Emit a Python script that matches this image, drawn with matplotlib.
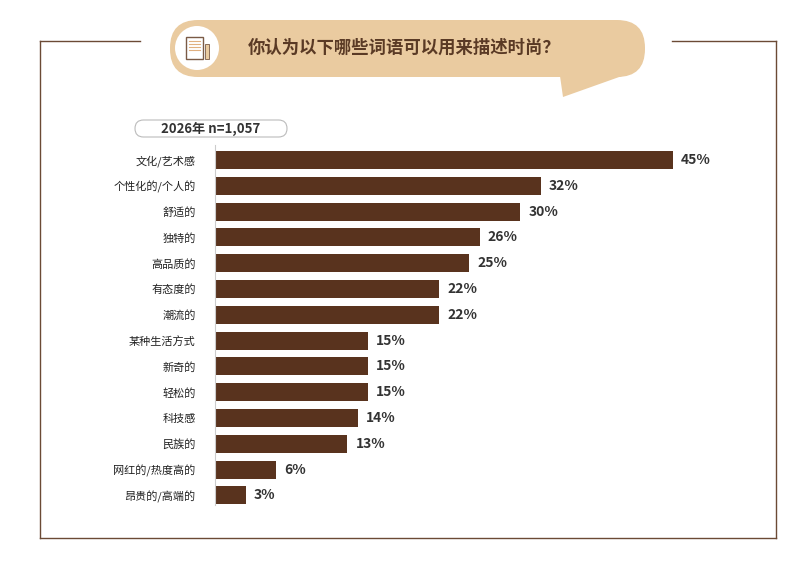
import matplotlib.pyplot as plt
from matplotlib.patches import FancyBboxPatch, Circle, Polygon, Rectangle
from matplotlib.lines import Line2D

plt.rcParams['font.family'] = ['Noto Sans CJK SC', 'DejaVu Sans']

categories = ['文化/艺术感', '个性化的/个人的', '舒适的', '独特的', '高品质的', '有态度的', '潮流的',
              '某种生活方式', '新奇的', '轻松的', '科技感', '民族的', '网红的/热度高的', '昂贵的/高端的']
values = [45, 32, 30, 26, 25, 22, 22, 15, 15, 15, 14, 13, 6, 3]
title = '你认为以下哪些词语可以用来描述时尚？'
sample_label = '2026年 n=1,057'

W, H = 804, 585
bar_color = '#59331e'
frame_color = '#6b4a35'
bubble_color = '#eacba0'

fig = plt.figure(figsize=(W / 100, H / 100), dpi=100)

# overlay in pixel coords
ov = fig.add_axes([0, 0, 1, 1])
ov.set_xlim(0, W)
ov.set_ylim(H, 0)
ov.axis('off')

# frame
for xs, ys in [([40, 140], [41, 41]), ([672, 776], [41, 41]), ([40, 40], [41, 538]),
               ([40, 776], [538, 538]), ([776, 776], [41, 538])]:
    ov.add_line(Line2D(xs, ys, color=frame_color, lw=1))

# speech bubble
ov.add_patch(FancyBboxPatch((170, 20), 475, 57, boxstyle='round,pad=0,rounding_size=28',
                            fc=bubble_color, ec='none'))
ov.add_patch(Polygon([[560, 76], [622, 76], [563, 97]], closed=True, fc=bubble_color, ec='none'))
ov.add_patch(Circle((197, 48), 22, fc='white', ec='none'))
# simple document icon
ov.add_patch(Rectangle((186, 37), 17, 22, fc='none', ec='#7a5a45', lw=1))
for yy in [41, 44, 47, 50]:
    ov.add_line(Line2D([189, 200], [yy, yy], color='#e0b080', lw=0.8))
ov.add_patch(Rectangle((205, 44), 4, 15, fc=bubble_color, ec='#7a5a45', lw=0.6))
ov.text(248, 48, title, fontsize=12.5, fontweight='bold', color='#5a3a25', va='center')

# sample pill
ov.add_patch(FancyBboxPatch((135, 120), 152, 17, boxstyle='round,pad=0,rounding_size=8.5',
                            fc='white', ec='#bbbbbb', lw=0.8))
ov.text(211, 129, sample_label, fontsize=9.5, fontweight='bold', color='#333333',
        ha='center', va='center')

# bar chart
ax = fig.add_axes([215 / W, 1 - 505 / H, 560 / W, 360 / H])
y = list(range(len(categories)))
ax.barh(y, values, height=0.7, color=bar_color)
ax.set_xlim(0, 560 / 10.18)
ax.set_ylim((505 - 160) / 25.8, (145 - 160) / 25.8)
ax.set_yticks(y)
ax.set_yticklabels(categories, fontsize=8, color='#222222')
ax.tick_params(axis='y', length=0, pad=14)
ax.set_xticks([])
for s in ['top', 'right', 'bottom']:
    ax.spines[s].set_visible(False)
ax.spines['left'].set_color('#cccccc')
ax.patch.set_alpha(0)
for yi, v in zip(y, values):
    ax.text(v + 0.8, yi, f'{v}%', va='center', fontsize=10, fontweight='bold', color='#333333')

fig.savefig('out.png', dpi=100)
